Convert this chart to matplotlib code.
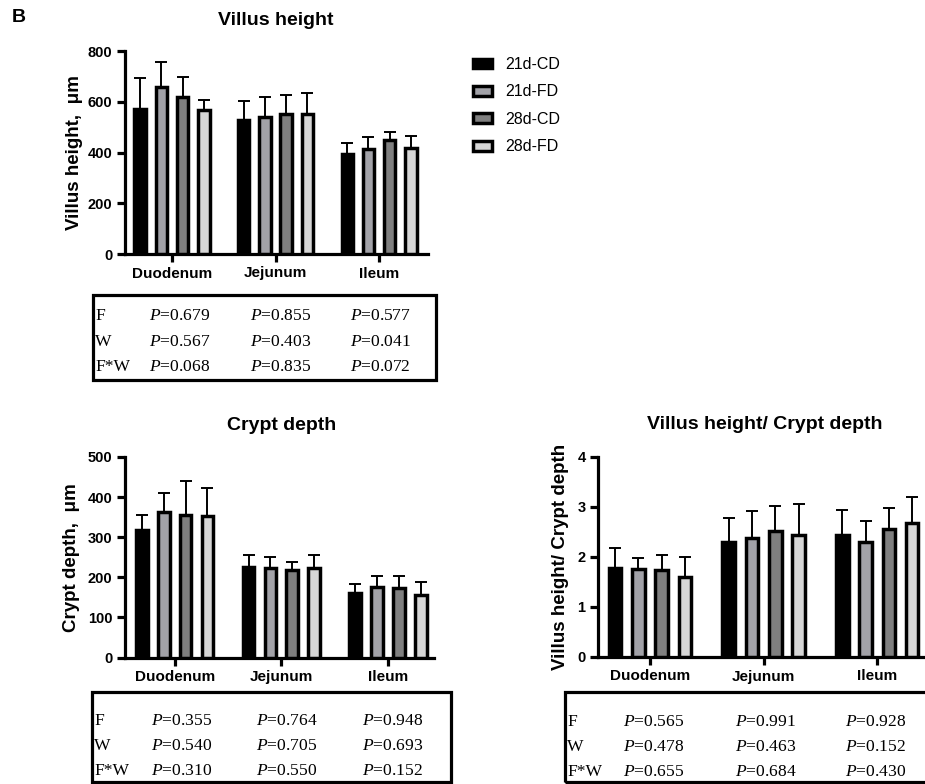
import matplotlib
matplotlib.use("Agg")
import matplotlib.pyplot as plt
from matplotlib.patches import Rectangle
import numpy as np

plt.rcParams["font.family"] = ["Liberation Sans", "DejaVu Sans"]
plt.rcParams["mathtext.fontset"] = "custom"
plt.rcParams["mathtext.it"] = "Liberation Serif:italic"
plt.rcParams["mathtext.rm"] = "Liberation Serif"

# ---------------- data ----------------
segments = ["Duodenum", "Jejunum", "Ileum"]
groups = ["21d-CD", "21d-FD", "28d-CD", "28d-FD"]
group_colors = ["#000000", "#a2a2a8", "#7f7f7f", "#d6d6d6"]

villus_21d_cd = [573, 527, 396]
villus_21d_fd = [657, 539, 414]
villus_28d_cd = [620, 553, 451]
villus_28d_fd = [568, 553, 418]
villus_sd_21d_cd = [119, 76, 43]
villus_sd_21d_fd = [101, 81, 48]
villus_sd_28d_cd = [76, 74, 31]
villus_sd_28d_fd = [39, 80, 46]

crypt_21d_cd = [317, 226, 160]
crypt_21d_fd = [364, 223, 177]
crypt_28d_cd = [356, 218, 174]
crypt_28d_fd = [353, 224, 156]
crypt_sd_21d_cd = [38, 29, 24]
crypt_sd_21d_fd = [46, 27, 27]
crypt_sd_28d_cd = [83, 21, 28]
crypt_sd_28d_fd = [69, 31, 32]

ratio_21d_cd = [1.78, 2.30, 2.45]
ratio_21d_fd = [1.76, 2.38, 2.30]
ratio_28d_cd = [1.74, 2.52, 2.57]
ratio_28d_fd = [1.60, 2.45, 2.68]
ratio_sd_21d_cd = [0.40, 0.49, 0.50]
ratio_sd_21d_fd = [0.23, 0.55, 0.43]
ratio_sd_28d_cd = [0.30, 0.51, 0.42]
ratio_sd_28d_fd = [0.41, 0.62, 0.53]

table_rows = ["F", "W", "F*W"]
villus_p = [["0.679", "0.855", "0.577"],
            ["0.567", "0.403", "0.041"],
            ["0.068", "0.835", "0.072"]]
crypt_p = [["0.355", "0.764", "0.948"],
           ["0.540", "0.705", "0.693"],
           ["0.310", "0.550", "0.152"]]
ratio_p = [["0.565", "0.991", "0.928"],
           ["0.478", "0.463", "0.152"],
           ["0.655", "0.684", "0.430"]]

# ---------------- figure ----------------
W, H = 925, 784
fig = plt.figure(figsize=(W / 100, H / 100), dpi=100)


def fx(px):
    return px / W


def fy(py):
    return 1 - py / H


def add_axes_px(x0, y_top, x1, y_bottom):
    return fig.add_axes([fx(x0), fy(y_bottom), fx(x1 - x0), (y_bottom - y_top) / H])


LW = 2.3
BAR_LW = 2.5
offsets = np.array([-1.5, -0.5, 0.5, 1.5]) * 0.205
bar_w = 0.11


def panel(ax, means, sds, ymax, ystep, ylabel, xlim, label_x):
    x = np.arange(len(segments))
    handles = []
    for i, g in enumerate(groups):
        h = ax.bar(x + offsets[i], means[i], bar_w, color=group_colors[i],
                   edgecolor="black", linewidth=BAR_LW, label=g, zorder=3,
                   yerr=[np.zeros(len(segments)), sds[i]],
                   error_kw=dict(ecolor="black", elinewidth=1.4, capsize=4.5,
                                 capthick=1.4, zorder=2))
        handles.append(h)
    ax.set_ylim(0, ymax)
    ax.set_yticks(np.arange(0, ymax + ystep / 2, ystep))
    ax.set_xlim(*xlim)
    ax.set_xticks(x)
    ax.set_xticklabels(segments, fontsize=11, fontweight="bold")
    for lab in ax.get_yticklabels():
        lab.set_fontweight("bold")
        lab.set_fontsize(10.5)
    ax.spines["top"].set_visible(False)
    ax.spines["right"].set_visible(False)
    ax.spines["left"].set_linewidth(LW)
    ax.spines["bottom"].set_linewidth(LW)
    ax.tick_params(width=LW, length=6, pad=3)
    ax.set_ylabel(ylabel, fontsize=13.5, fontweight="bold")
    ax.yaxis.set_label_coords(label_x, 0.5)
    return handles


def table(x0, y_top, x1, y_bottom, label_x, col_x, baselines, pvals):
    fig.patches.append(Rectangle((fx(x0), fy(y_bottom)), fx(x1 - x0), (y_bottom - y_top) / H,
                                 transform=fig.transFigure, fill=False,
                                 edgecolor="black", linewidth=LW))
    for r, name in enumerate(table_rows):
        fig.text(fx(label_x), fy(baselines[r]), name, fontsize=12.6,
                 family="Liberation Serif", va="baseline", ha="left")
        for c, p in enumerate(pvals[r]):
            fig.text(fx(col_x[c]), fy(baselines[r]), r"$P$=" + p, fontsize=12.6,
                     family="Liberation Serif", va="baseline", ha="left")


# panel 1: villus height
ax1 = add_axes_px(125, 51, 428, 254)
h = panel(ax1,
          [villus_21d_cd, villus_21d_fd, villus_28d_cd, villus_28d_fd],
          [villus_sd_21d_cd, villus_sd_21d_fd, villus_sd_28d_cd, villus_sd_28d_fd],
          800, 200, "Villus height,  μm", (-0.454, 2.473), -0.14)
fig.text(fx(276), fy(25), "Villus height", fontsize=14, fontweight="bold",
         ha="center", va="baseline")
fig.text(fx(12), fy(22), "B", fontsize=14, fontweight="bold", ha="left", va="baseline")

leg = fig.legend(handles=h, labels=groups, loc="upper left",
                 bbox_to_anchor=(fx(473), fy(57)), frameon=False, fontsize=11.5,
                 handlelength=1.2, handleheight=0.55, handletextpad=0.85,
                 labelspacing=0.78, borderpad=0, borderaxespad=0)

# panel 2: crypt depth
ax2 = add_axes_px(125, 457, 434, 657.5)
panel(ax2,
      [crypt_21d_cd, crypt_21d_fd, crypt_28d_cd, crypt_28d_fd],
      [crypt_sd_21d_cd, crypt_sd_21d_fd, crypt_sd_28d_cd, crypt_sd_28d_fd],
      500, 100, "Crypt depth,  μm", (-0.465, 2.43), -0.145)
fig.text(fx(282), fy(430), "Crypt depth", fontsize=14, fontweight="bold",
         ha="center", va="baseline")

# panel 3: ratio
ax3 = add_axes_px(598, 457, 925, 657)
panel(ax3,
      [ratio_21d_cd, ratio_21d_fd, ratio_28d_cd, ratio_28d_fd],
      [ratio_sd_21d_cd, ratio_sd_21d_fd, ratio_sd_28d_cd, ratio_sd_28d_fd],
      4, 1, "Villus height/ Crypt depth", (-0.458, 2.42), -0.089)
fig.text(fx(765), fy(429), "Villus height/ Crypt depth", fontsize=14,
         fontweight="bold", ha="center", va="baseline")

# tables
table(93, 295, 436, 380, 95, [149, 250, 350], [320, 346, 371], villus_p)
table(92, 692, 451, 782, 94, [151, 256, 362], [725, 750, 775], crypt_p)
table(565, 692, 940, 782, 567, [623, 735, 845], [726, 751, 776], ratio_p)

fig.savefig("out.png", dpi=100)
